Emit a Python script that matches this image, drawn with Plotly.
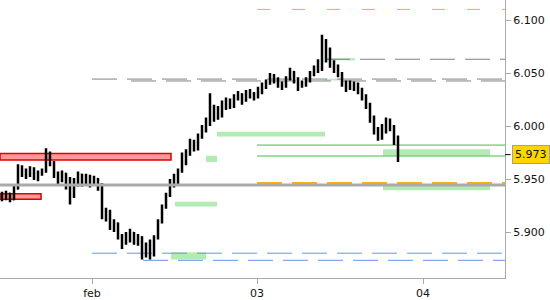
import plotly.graph_objects as go

# ---- data ----
bar_open = [5.935,5.933,5.936,5.931,5.941,5.961,5.956,5.954,5.960,5.951,
            5.955,5.958,5.971,5.965,5.954,5.949,5.955,5.944,5.948,5.945,
            5.954,5.947,5.952,5.946,5.950,5.944,5.914,5.919,5.905,5.908,
            5.896,5.890,5.897,5.899,5.892,5.895,5.882,5.886,5.879,5.895,
            5.910,5.924,5.935,5.947,5.946,5.958,5.966,5.975,5.985,5.979,
            5.990,5.998,6.005,6.012,6.017,6.010,6.021,6.024,6.019,6.028,
            6.030,6.025,6.032,6.029,6.028,6.034,6.038,6.041,6.048,6.044,
            6.040,6.038,6.045,6.051,6.044,6.039,6.041,6.043,6.050,6.055,
            6.060,6.062,6.072,6.058,6.055,6.049,6.040,6.036,6.040,6.036,
            6.034,6.027,6.020,6.008,5.997,5.990,5.995,6.003,5.999,5.988]
bar_high = [5.938,5.939,5.937,5.944,5.964,5.963,5.960,5.962,5.961,5.958,
            5.960,5.979,5.976,5.967,5.957,5.958,5.956,5.952,5.951,5.957,
            5.955,5.955,5.954,5.953,5.951,5.946,5.923,5.921,5.912,5.909,
            5.898,5.900,5.903,5.900,5.898,5.896,5.890,5.893,5.897,5.912,
            5.926,5.937,5.950,5.955,5.960,5.975,5.978,5.988,5.987,5.993,
            6.001,6.008,6.031,6.020,6.019,6.024,6.027,6.026,6.030,6.033,
            6.031,6.034,6.035,6.032,6.037,6.041,6.044,6.050,6.049,6.046,
            6.042,6.047,6.055,6.052,6.046,6.043,6.046,6.052,6.057,6.063,
            6.086,6.082,6.074,6.062,6.058,6.051,6.043,6.043,6.042,6.041,
            6.036,6.030,6.022,6.010,5.999,6.002,6.008,6.007,6.001,5.991]
bar_low = [5.929,5.930,5.928,5.930,5.940,5.952,5.950,5.952,5.949,5.948,
           5.953,5.956,5.962,5.951,5.945,5.947,5.940,5.926,5.932,5.943,
           5.943,5.944,5.942,5.944,5.939,5.912,5.910,5.902,5.900,5.893,
           5.884,5.888,5.890,5.888,5.887,5.874,5.876,5.874,5.877,5.893,
           5.908,5.922,5.933,5.942,5.945,5.956,5.963,5.972,5.976,5.977,
           5.988,5.994,6.000,6.004,6.006,6.008,6.015,6.016,6.017,6.024,
           6.020,6.023,6.026,6.024,6.026,6.030,6.035,6.039,6.040,6.036,
           6.034,6.036,6.043,6.040,6.033,6.036,6.037,6.041,6.047,6.050,
           6.052,6.060,6.055,6.050,6.046,6.037,6.032,6.034,6.033,6.030,
           6.024,6.016,6.003,5.992,5.986,5.987,5.993,5.995,5.982,5.966]
bar_close = [5.933,5.936,5.931,5.941,5.961,5.956,5.954,5.960,5.951,5.955,
             5.958,5.971,5.965,5.954,5.949,5.955,5.944,5.948,5.945,5.954,
             5.947,5.952,5.946,5.950,5.944,5.914,5.919,5.905,5.908,5.896,
             5.890,5.897,5.899,5.892,5.895,5.882,5.886,5.879,5.895,5.910,
             5.924,5.935,5.947,5.946,5.958,5.966,5.975,5.985,5.979,5.990,
             5.998,6.005,6.012,6.017,6.010,6.021,6.024,6.019,6.028,6.030,
             6.025,6.032,6.029,6.028,6.034,6.038,6.041,6.048,6.044,6.040,
             6.038,6.045,6.051,6.044,6.039,6.041,6.043,6.050,6.055,6.060,
             6.062,6.072,6.058,6.055,6.049,6.040,6.036,6.040,6.036,6.034,
             6.027,6.020,6.008,5.997,5.990,5.995,6.003,5.999,5.988,5.973]
bar_index = list(range(len(bar_close)))

tick_labels = ["feb", "03", "04"]
tick_index = [22.5, 63.75, 105.25]
y_ticks = [5.900, 5.950, 6.000, 6.050, 6.100]
last_price = 5.973

# horizontal level lines: (start index, level, color, width, dash)
level_lines = [
    (63.75, 6.110, "#FFB300", 1, "13px,22px"),
    (80.75, 6.063, "#808080", 1, "25px,10px"),
    (22.5, 6.0443, "#808080", 1, "25px,10px"),
    (32.25, 6.0425, "#808080", 1, "25px,10px"),
    (63.75, 5.982, "#44C044", 1, "solid"),
    (63.75, 5.9717, "#44C044", 1, "solid"),
    (63.75, 5.9462, "#F5B020", 2, "25px,10px"),
    (22.5, 5.880, "#6495ED", 1, "25px,10px"),
    (35.25, 5.8733, "#6495ED", 1, "25px,10px"),
]
# green zones: (x0, x1, y0, y1)
green_zones = [
    (80.75, 88.25, 6.0620, 6.0640),
    (80.75, 84.5, 6.0430, 6.0445),
    (53.75, 80.75, 5.9900, 5.9945),
    (95.25, 122.0, 5.9720, 5.9780),
    (51.0, 53.75, 5.9660, 5.9720),
    (95.25, 122.0, 5.9395, 5.9450),
    (43.25, 53.75, 5.9240, 5.9285),
    (42.25, 51.0, 5.8740, 5.8810),
]
# red zones: (x0, x1, y0, y1)
red_zones = [
    (-0.5, 42.25, 5.9680, 5.9740),
    (-0.5, 9.75, 5.9310, 5.9360),
]
pivot_level = 5.9443

x_min, x_max = -0.5, 125.75
y_min, y_max = 5.8566, 6.1189

fig = go.Figure()
fig.add_trace(go.Ohlc(
    x=bar_index, open=bar_open, high=bar_high, low=bar_low, close=bar_close,
    increasing=dict(line=dict(color="black", width=2.5)),
    decreasing=dict(line=dict(color="black", width=2.5)),
    tickwidth=0.3, showlegend=False, hoverinfo="skip"))

shapes = []
for (x0, x1, y0, y1) in red_zones:
    shapes.append(dict(type="rect", xref="x", yref="y", x0=x0, x1=x1, y0=y0, y1=y1,
                       fillcolor="#FF9A9A", line=dict(color="#E00000", width=1.5), layer="below"))
for (x0, x1, y0, y1) in green_zones:
    shapes.append(dict(type="rect", xref="x", yref="y", x0=x0, x1=x1, y0=y0, y1=y1,
                       fillcolor="#B4EBB4", line=dict(width=0), layer="below"))
for (x0, lvl, col, w, dash) in level_lines:
    shapes.append(dict(type="line", xref="x", yref="y", x0=x0, x1=x_max, y0=lvl, y1=lvl,
                       line=dict(color=col, width=w, dash=dash), layer="below"))
shapes.append(dict(type="line", xref="x", yref="y", x0=x_min, x1=x_max, y0=pivot_level, y1=pivot_level,
                   line=dict(color="#AAAAAA", width=3), layer="above"))
shapes.append(dict(type="line", xref="paper", yref="y", x0=1, x1=1.011, y0=last_price, y1=last_price,
                   line=dict(color="black", width=1), layer="above"))

fig.update_layout(
    width=550, height=300,
    margin=dict(l=0, r=45, t=0, b=22),
    paper_bgcolor="white", plot_bgcolor="white",
    shapes=shapes,
    font=dict(family="DejaVu Sans", size=11, color="#111111"),
    xaxis=dict(range=[x_min, x_max], rangeslider=dict(visible=False),
               tickmode="array", tickvals=tick_index, ticktext=tick_labels,
               showgrid=False, zeroline=False, showline=True, linecolor="#AAAAAA", linewidth=1,
               ticks="outside", ticklen=5, tickcolor="#AAAAAA", fixedrange=True),
    yaxis=dict(range=[y_min, y_max], side="right", tickmode="array", tickvals=y_ticks,
               tickformat=".3f", showgrid=False, zeroline=False, showline=True,
               linecolor="#AAAAAA", linewidth=1, ticks="outside", ticklen=5,
               tickcolor="#AAAAAA", fixedrange=True),
    annotations=[dict(xref="paper", yref="y", x=1.013, y=last_price, xanchor="left", yanchor="middle",
                      text="%.3f" % last_price, showarrow=False,
                      font=dict(family="DejaVu Sans", size=11, color="#111111"),
                      bgcolor="#FFD500", bordercolor="#A0A0A0", borderwidth=1, borderpad=2)],
)

fig.write_html("out.html")
